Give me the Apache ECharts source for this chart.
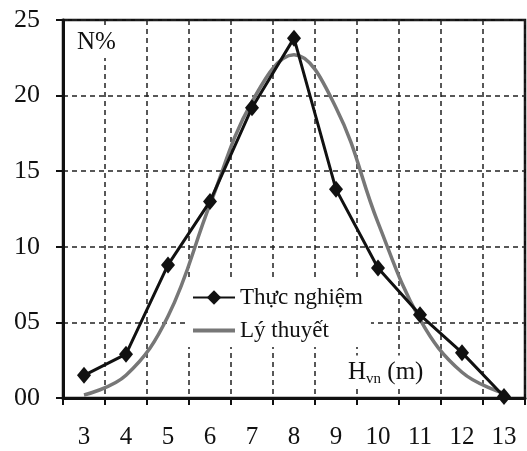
<!DOCTYPE html>
<html>

<head>
	<meta charset="utf-8">
	<title>N% - Hvn</title>
	<script src="https://cdn.jsdelivr.net/npm/echarts@6/dist/echarts.min.js"></script>
	<style>
		body { margin: 0; background: #fff; }
		#chart { width: 527px; height: 451px; }
	</style>
</head>

<body>
	<div id="chart"></div>
	<script>
		var categories = ['3', '4', '5', '6', '7', '8', '9', '10', '11', '12', '13'];
		var thucNghiem = [1.5, 2.9, 8.8, 13.0, 19.2, 23.8, 13.8, 8.6, 5.5, 3.0, 0.1];
		var lyThuyet = [0.2, 1.5, 5.4, 12.8, 19.6, 22.7, 19.2, 11.6, 5.2, 1.7, 0.3];
		var yTicks = [0, 5, 10, 15, 20, 25];

		var font = 'Liberation Serif';
		var chart = echarts.init(document.getElementById('chart'));

		var option = {
			backgroundColor: '#fff',
			animation: false,
			textStyle: { fontFamily: font, color: '#111' },
			title: [
				{
					text: 'N%',
					left: 74,
					top: 27,
					padding: [3, 3],
					backgroundColor: '#fff',
					textStyle: { fontFamily: font, fontSize: 25, fontWeight: 'normal', color: '#111' }
				},
				{
					text: '{a|H}{b|vn}{a| (m)}',
					left: 344,
					top: 355,
					padding: [2, 4],
					backgroundColor: '#fff',
					textStyle: {
						fontFamily: font,
						fontWeight: 'normal',
						rich: {
							a: { fontFamily: font, fontSize: 25, color: '#111', lineHeight: 30 },
							b: { fontFamily: font, fontSize: 15, color: '#111', lineHeight: 30, padding: [14, 0, 0, 0] }
						}
					}
				}
			],
			legend: {
				orient: 'vertical',
				left: 187,
				top: 281,
				padding: [5, 8, 5, 5],
				itemGap: 10,
				itemWidth: 42,
				itemHeight: 18,
				backgroundColor: '#fff',
				textStyle: { fontFamily: font, fontSize: 23, color: '#111' },
				data: [
					'Thực nghiệm',
					{ name: 'Lý thuyết', icon: 'path://M0,0 L42,0 L42,4 L0,4 Z' }
				]
			},
			grid: {
				left: 63,
				right: 2,
				top: 20,
				bottom: 53,
				show: true,
				borderColor: '#111',
				borderWidth: 2.5
			},
			xAxis: {
				type: 'category',
				data: categories,
				boundaryGap: true,
				axisLine: { lineStyle: { color: '#111', width: 3 } },
				axisTick: { show: true, alignWithLabel: false, length: 7, lineStyle: { color: '#111', width: 2 } },
				axisLabel: { margin: 27, fontFamily: font, fontSize: 25, color: '#111' },
				splitLine: { show: true, lineStyle: { color: '#222', width: 1.5, type: [5, 4] } }
			},
			yAxis: {
				type: 'value',
				min: yTicks[0],
				max: yTicks[yTicks.length - 1],
				interval: 5,
				axisLine: { show: true, lineStyle: { color: '#111', width: 3 } },
				axisTick: { show: true, length: 7, lineStyle: { color: '#111', width: 2 } },
				axisLabel: {
					margin: 23,
					fontFamily: font,
					fontSize: 26,
					color: '#111',
					formatter: function (v) { return (v < 10 ? '0' : '') + v; }
				},
				splitLine: { show: true, lineStyle: { color: '#222', width: 1.5, type: [5, 4] } }
			},
			series: [
				{
					name: 'Thực nghiệm',
					type: 'line',
					data: thucNghiem,
					symbol: 'diamond',
					symbolSize: [14, 17],
					z: 3,
					lineStyle: { color: '#111', width: 3 },
					itemStyle: { color: '#111' }
				},
				{
					name: 'Lý thuyết',
					type: 'line',
					data: lyThuyet,
					smooth: 0.4,
					symbol: 'none',
					z: 2,
					lineStyle: { color: '#777', width: 3.5 },
					itemStyle: { color: '#777' }
				}
			]
		};
		chart.setOption(option);
	</script>
</body>

</html>
